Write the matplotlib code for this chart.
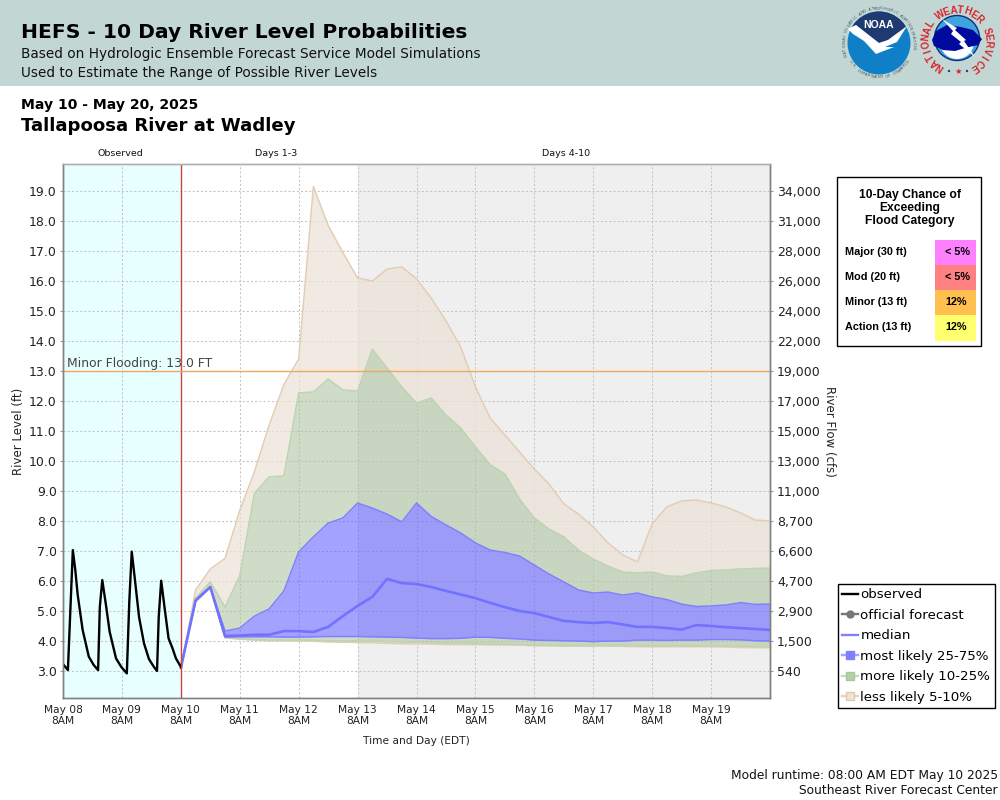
import matplotlib
matplotlib.use("Agg")
import matplotlib.pyplot as plt
import numpy as np
from matplotlib.lines import Line2D
from matplotlib.patches import Circle, Polygon, Rectangle, Wedge

# observed stage, hours after May 08 8AM
obs_hours = [0, 2, 4, 5, 6, 8, 10.5, 12.5, 14.3, 15, 16, 17.5, 19, 21.6, 23.7, 26, 27, 28, 29, 31, 33, 35, 37,
             38.3, 39, 40, 41.5, 43, 44.6, 46, 48]
obs_level = [3.23, 3.03, 7.03, 6.37, 5.53, 4.37, 3.48, 3.2, 3.03, 5.14, 6.03, 5.2, 4.31, 3.42, 3.14, 2.92, 5.3,
             6.98, 6.26, 4.79, 3.92, 3.4, 3.14, 3.0, 4.81, 6.01, 5.03, 4.09, 3.76, 3.42, 3.14]

# forecast traces, one value every 6 hours from May 10 8AM
up95 = [3.1, 5.7, 6.4, 6.75, 8.35, 9.65, 11.2, 12.55, 13.4, 19.15, 17.85, 16.95, 16.1, 16.0, 16.4, 16.47, 16.07,
        15.43, 14.67, 13.8, 12.47, 11.43, 10.87, 10.3, 9.73, 9.23, 8.57, 8.23, 7.8, 7.27, 6.87, 6.63, 7.9, 8.47,
        8.67, 8.7, 8.6, 8.47, 8.27, 8.03, 8.0]
up90 = [3.1, 5.43, 5.97, 5.13, 6.17, 8.93, 9.47, 9.5, 12.27, 12.3, 12.73, 12.37, 12.33, 13.73, 13.1, 12.47, 11.93,
        12.1, 11.53, 11.1, 10.47, 9.87, 9.57, 8.73, 8.1, 7.73, 7.47, 7.03, 6.73, 6.5, 6.3, 6.27, 6.3, 6.17, 6.15,
        6.27, 6.35, 6.37, 6.4, 6.42, 6.43]
up75 = [3.1, 5.37, 5.8, 4.33, 4.43, 4.83, 5.07, 5.67, 6.97, 7.47, 7.93, 8.1, 8.6, 8.43, 8.23, 7.97, 8.6, 8.15, 7.87,
        7.6, 7.27, 7.03, 6.95, 6.83, 6.53, 6.23, 5.97, 5.7, 5.6, 5.63, 5.53, 5.6, 5.47, 5.38, 5.23, 5.15, 5.17, 5.2,
        5.28, 5.22, 5.23]
median = [3.1, 5.35, 5.8, 4.17, 4.18, 4.21, 4.21, 4.33, 4.33, 4.3, 4.47, 4.83, 5.17, 5.47, 6.07, 5.93, 5.9, 5.8,
          5.67, 5.55, 5.43, 5.27, 5.13, 5.0, 4.93, 4.8, 4.67, 4.63, 4.6, 4.63, 4.55, 4.47, 4.47, 4.43, 4.38, 4.53,
          4.5, 4.46, 4.43, 4.4, 4.37]
low25 = [3.1, 5.35, 5.8, 4.13, 4.14, 4.14, 4.14, 4.13, 4.13, 4.14, 4.15, 4.15, 4.15, 4.14, 4.13, 4.12, 4.1, 4.08,
         4.08, 4.09, 4.13, 4.12, 4.09, 4.07, 4.03, 4.02, 4.01, 4.0, 3.98, 4.0, 4.0, 4.03, 4.03, 4.02, 4.03, 4.03,
         4.05, 4.05, 4.04, 4.01, 4.0]
low10 = [3.1, 5.3, 5.8, 4.12, 4.08, 4.05, 4.03, 4.03, 4.03, 4.02, 4.01, 4.0, 4.0, 4.0, 3.98, 3.97, 3.96, 3.94, 3.93,
         3.92, 3.91, 3.9, 3.89, 3.88, 3.86, 3.85, 3.85, 3.85, 3.85, 3.85, 3.85, 3.84, 3.84, 3.84, 3.84, 3.84, 3.84,
         3.84, 3.83, 3.82, 3.8]
low05 = [3.1, 5.3, 5.8, 4.1, 4.06, 4.03, 4.01, 4.0, 4.0, 3.99, 3.97, 3.96, 3.95, 3.94, 3.92, 3.91, 3.9, 3.9, 3.88,
         3.88, 3.88, 3.87, 3.87, 3.86, 3.84, 3.84, 3.83, 3.83, 3.83, 3.83, 3.82, 3.81, 3.81, 3.81, 3.81, 3.81, 3.81,
         3.8, 3.78, 3.78, 3.77]

level_ticks = np.arange(3, 20)
flow_labels = ["540", "1,500", "2,900", "4,700", "6,600", "8,700", "11,000", "13,000", "15,000", "17,000", "19,000",
               "22,000", "24,000", "26,000", "28,000", "31,000", "34,000"]
day_labels = ["May 08", "May 09", "May 10", "May 11", "May 12", "May 13", "May 14", "May 15", "May 16", "May 17",
              "May 18", "May 19"]

flood_names = ["Major (30 ft)", "Mod (20 ft)", "Minor (13 ft)", "Action (13 ft)"]
flood_chances = ["< 5%", "< 5%", "12%", "12%"]
flood_colors = ["#ff80ff", "#ff8080", "#ffc050", "#ffff70"]

BLUE_FILL, BLUE_EDGE = "#6666ff", "#8080ff"
GREEN_FILL, GREEN_EDGE = "#afc5a3", "#bcd4b0"
TAN_FILL, TAN_EDGE = "#ece2d6", "#e3ceb5"
SANS = "Liberation Sans"

fig = plt.figure(figsize=(10, 8), dpi=100)

# page axes in pixel coordinates for the banner, titles and boxes
page = fig.add_axes([0, 0, 1, 1], zorder=3)
page.set_xlim(0, 1000)
page.set_ylim(800, 0)
page.axis("off")
page.patch.set_alpha(0)


def arc_text(text, cx, cy, radius, start, stop, flip=False, **kwargs):
    # angles in degrees, clockwise on screen because the y axis points down
    for char, angle in zip(text, np.linspace(start, stop, len(text))):
        rad = np.deg2rad(angle)
        rotation = -(angle - 90) if flip else -(angle + 90)
        page.text(cx + radius * np.cos(rad), cy + radius * np.sin(rad), char, rotation=rotation,
                  rotation_mode="anchor", ha="center", va="center", **kwargs)


def draw_noaa(cx, cy):
    disc = Circle((cx, cy), 31.5, fc="#0f80c8", ec="none")
    page.add_patch(disc)
    navy = Polygon([(cx - 31, cy - 14), (cx - 33, cy - 33), (cx + 33, cy - 33), (cx + 28, cy - 17), (cx + 9, cy - 3), (cx, cy),
                    (cx - 9, cy - 7), (cx - 23, cy - 18)], fc="#1f3a70", ec="none")
    page.add_patch(navy)
    navy.set_clip_path(disc)
    bird = Polygon([(cx - 31, cy - 14), (cx - 23, cy - 18), (cx - 9, cy - 7), (cx, cy), (cx + 9, cy - 3), (cx + 28, cy - 17),
                    (cx + 18, cy - 1), (cx + 6, cy + 4), (cx + 15, cy + 4), (cx - 3, cy + 11), (cx - 15, cy - 2), (cx - 26, cy - 9)],
                   fc="white", ec="none")
    page.add_patch(bird)
    page.text(cx, cy - 18, "NOAA", color="white", fontsize=7.5, fontweight="bold", family=SANS, ha="center", va="center")
    arc_text("NATIONAL OCEANIC AND ATMOSPHERIC ADMINISTRATION", cx, cy, 34.5, -200, 8, fontsize=2.8, color="#44566a")
    arc_text("U.S. DEPARTMENT OF COMMERCE", cx, cy, 34.5, 148, 32, flip=True, fontsize=2.8, color="#44566a")


def draw_nws(cx, cy):
    disc = Circle((cx, cy), 22.5, fc="#3fa4dc", ec="#10307a", lw=1)
    page.add_patch(disc)
    low = Wedge((cx, cy + 4), 17, 5, 175, fc="white", ec="none")
    page.add_patch(low)
    low.set_clip_path(disc)
    cloud = [(cx - 25, cy + 2), (cx - 21, cy - 7), (cx - 10, cy - 13), (cx + 4, cy - 11), (cx + 16, cy - 8), (cx + 25, cy + 1),
             (cx + 21, cy + 7), (cx + 8, cy + 10), (cx - 2, cy + 13), (cx - 14, cy + 12), (cx - 23, cy + 8)]
    page.add_patch(Polygon(cloud, fc="#000a9c", ec="none"))
    bolt = [(cx - 15, cy - 19), (cx + 0, cy - 10), (cx - 2, cy - 8), (cx + 9, cy + 2), (cx + 7, cy + 3), (cx + 18, cy + 19),
            (cx + 2, cy + 6), (cx + 4, cy + 4), (cx - 6, cy - 4), (cx - 4, cy - 7)]
    page.add_patch(Polygon(bolt, fc="white", ec="none"))
    arc_text("NATIONAL WEATHER SERVICE", cx, cy + 3, 31, -237, 57, fontsize=7, fontweight="bold", color="#d8252c", family=SANS)
    page.text(cx + 1, cy + 33.5, "\u2605", color="#d8252c", fontsize=6, ha="center", va="center", family="DejaVu Sans")
    for dx in [-8, 10]:
        page.add_patch(Circle((cx + dx, cy + 33), 1.2, fc="#1f3a90", ec="none"))


# banner
page.add_patch(Rectangle((0, 0), 1000, 86, fc="#c2d7d4", ec="none"))
page.text(21, 33, "HEFS - 10 Day River Level Probabilities", fontsize=14.6, fontweight="bold", va="center")
page.text(21, 54, "Based on Hydrologic Ensemble Forecast Service Model Simulations", fontsize=9.85, va="center", color="#111111")
page.text(21, 73, "Used to Estimate the Range of Possible River Levels", fontsize=9.85, va="center", color="#111111")
draw_noaa(879, 43)
draw_nws(957, 38)

page.text(21, 105, "May 10 - May 20, 2025", fontsize=10.05, fontweight="bold", va="center")
page.text(21, 126, "Tallapoosa River at Wadley", fontsize=13.05, fontweight="bold", va="center")

# main chart
ax = fig.add_axes([63 / 1000, 1 - 698 / 800, 707 / 1000, 534 / 800], zorder=1)
hours = 48 + 6 * np.arange(len(median))
ax.set_xlim(0, 288)
ax.set_ylim(2.1, 19.9)
ax.axvspan(0, 48, color="#e8ffff", lw=0, zorder=0)
ax.axvspan(120, 288, color="#efefef", lw=0, zorder=0)
ax.grid(True, color="#c4c4c4", linestyle=(0, (2, 2)), linewidth=0.75, zorder=1)
ax.set_axisbelow(True)

bands = [(up90, up95, TAN_FILL, 0.7), (low05, low10, TAN_FILL, 0.7),
         (up75, up90, GREEN_FILL, 0.6), (low10, low25, GREEN_FILL, 0.6),
         (low25, up75, BLUE_FILL, 0.6)]
for lower, upper, fill, alpha in bands:
    ax.fill_between(hours, lower, upper, color=fill, alpha=alpha, lw=0, zorder=2)
for trace, edge in [(up95, TAN_EDGE), (low05, TAN_EDGE), (up90, GREEN_EDGE), (low10, GREEN_EDGE), (up75, BLUE_EDGE), (low25, BLUE_EDGE)]:
    ax.plot(hours, trace, color=edge, linewidth=1.1, zorder=3)
ax.plot(hours, median, color="#7272ff", linewidth=1.9, zorder=4)
ax.plot(obs_hours, obs_level, color="black", linewidth=1.7, zorder=5)

ax.axvline(48, color="#d84040", linewidth=1, zorder=6)
ax.axhline(13, color="#f0a860", linewidth=1, zorder=6)
ax.text(1.5, 13.02, "Minor Flooding: 13.0 FT", fontsize=8.9, color="#444444", va="bottom", zorder=7)

ax.set_yticks(level_ticks)
ax.set_yticklabels([f"{v:.1f}" for v in level_ticks], fontsize=9)
ax.set_xticks(24 * np.arange(len(day_labels)))
ax.set_xticklabels([f"{d}\n8AM" for d in day_labels], fontsize=7.7, linespacing=1.15)
ax.tick_params(axis="x", length=0, pad=5, labelcolor="#222222")
ax.tick_params(axis="y", length=2, width=0.8, pad=2.5, color="#999999", labelcolor="#222222")
ax.set_ylabel("River Level (ft)", fontsize=8.5, color="#222222")
ax.yaxis.set_label_coords(-0.054, 0.5)
ax.set_xlabel("Time and Day (EDT)", fontsize=7.7, labelpad=7, color="#222222")

right = ax.twinx()
right.set_zorder(2)
right.set_ylim(ax.get_ylim())
right.set_yticks(level_ticks)
right.set_yticklabels(flow_labels, fontsize=9)
right.tick_params(axis="y", length=2, width=0.8, pad=3, color="#999999", labelcolor="#222222")
right.set_ylabel("River Flow (cfs)", fontsize=8.5, rotation=270, color="#222222")
right.yaxis.set_label_coords(1.094, 0.5)

for axis in (ax, right):
    for side, spine in axis.spines.items():
        spine.set_color("#b0b0b0" if side == "top" else "#808080")
        spine.set_linewidth(1)

page.text(120, 154, "Observed", fontsize=6.8, ha="center", va="center", color="#111111")
page.text(276, 154, "Days 1-3", fontsize=6.8, ha="center", va="center", color="#111111")
page.text(566, 154, "Days 4-10", fontsize=6.8, ha="center", va="center", color="#111111")

# flood category box
page.add_patch(Rectangle((836.5, 176.5), 144, 169, fc="white", ec="black", lw=1))
for line_y, line in zip([195, 208, 221], ["10-Day Chance of", "Exceeding", "Flood Category"]):
    page.text(910, line_y, line, family=SANS, fontsize=8.7, fontweight="bold", ha="center", va="center")
for i, (name, chance, color) in enumerate(zip(flood_names, flood_chances, flood_colors)):
    top = 240 + 25 * i
    page.add_patch(Rectangle((935, top), 41, 25.5, fc=color, ec="none"))
    page.text(845, top + 12, name, family=SANS, fontsize=7.8, fontweight="bold", va="center")
    page.text(945, top + 12, chance, family=SANS, fontsize=7.8, fontweight="bold", va="center")

# legend
handles = [
    Line2D([], [], color="black", linewidth=1.7),
    Line2D([], [], color="#777777", linewidth=1.7, marker="o", markersize=5),
    Line2D([], [], color="#8080ff", linewidth=1.7),
    Line2D([], [], color="#a0a0ff", linewidth=1.7, marker="s", markersize=6, markerfacecolor="#8080ff", markeredgecolor="#8080ff"),
    Line2D([], [], color="#c8dcc0", linewidth=1.7, marker="s", markersize=6, markerfacecolor="#b4d0a8", markeredgecolor="#a8c89c"),
    Line2D([], [], color="#e8d4c0", linewidth=1.7, marker="s", markersize=6, markerfacecolor="#f0e4d4", markeredgecolor="#e0c8b0"),
]
legend_labels = ["observed", "official forecast", "median", "most likely 25-75%", "more likely 10-25%", "less likely 5-10%"]
legend = fig.legend(handles, legend_labels, loc="upper left", bbox_to_anchor=(837.5 / 1000, 1 - 583.5 / 800), bbox_transform=fig.transFigure,
                    fontsize=9.6, frameon=True, fancybox=False, edgecolor="black", framealpha=1, borderaxespad=0,
                    borderpad=0.36, labelspacing=0.56, handlelength=1.15, handletextpad=0.2)
legend.get_frame().set_linewidth(1)
legend.set_zorder(5)

page.text(998, 775, "Model runtime: 08:00 AM EDT May 10 2025", fontsize=8.85, ha="right", va="center", color="#111111")
page.text(998, 791, "Southeast River Forecast Center", fontsize=8.85, ha="right", va="center", color="#111111")

fig.savefig("out.png", dpi=100)
